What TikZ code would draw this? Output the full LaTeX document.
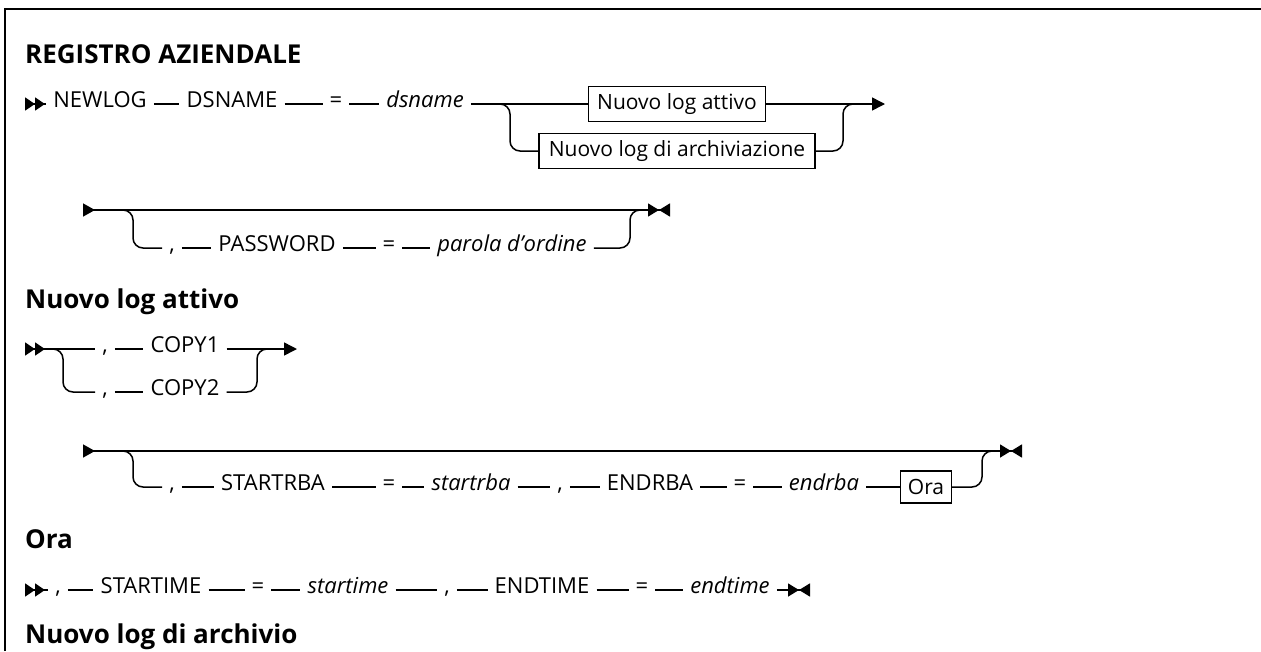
\documentclass[tikz,border=0pt]{standalone}
\usepackage{fontspec}
\setmainfont{Open Sans}
\usepackage{tikz}
\usetikzlibrary{arrows.meta}

\begin{document}
\begin{tikzpicture}[x=1pt, y=-1pt,
  txt/.style={font=\fontsize{22}{25}\selectfont, inner xsep=7pt, inner ysep=3pt, text height=0.7em, text depth=0pt},
  var/.style={txt, font=\fontsize{22}{25}\selectfont\itshape},
  ref/.style={draw, line width=1.3pt, font=\fontsize{21}{24}\selectfont, inner sep=0pt, outer sep=0pt, minimum height=35pt},
  lab/.style={font=\fontsize{26}{30}\selectfont\bfseries, anchor=base west, inner sep=0pt},
  rail/.style={line width=1.5pt},
  turn/.style={rail, rounded corners=10pt},
  bgn/.style={arrows={{Triangle[reversed, length=10pt, width=13pt] Triangle[reversed, length=10pt, width=13pt]}-}},
  cont/.style={arrows={-{Triangle[length=13pt, width=13pt]}}},
  fin/.style={arrows={-{Triangle[length=11pt, width=13pt] Triangle[reversed, length=11pt, width=13pt]}}},
  both/.style={arrows={{Triangle[reversed, length=12pt, width=13pt]}-{Triangle[length=11pt, width=13pt] Triangle[reversed, length=11pt, width=13pt]}}}]
\useasboundingbox (0,0) rectangle (1261,651);
\draw[line width=2.5pt] (5,651) -- (5,9) -- (1261,9);
% REGISTRO AZIENDALE
\node[lab] (h1) at (25,63) {REGISTRO AZIENDALE};
\coordinate (s1) at (25,104); \coordinate (b1) at (500,104); \coordinate (j1) at (843,104); \coordinate (e1) at (885,104);
\node[txt] (newlog) at (100,104) {NEWLOG};
\node[txt] (dsnm) at (232,104) {DSNAME};
\node[txt] (eq1) at (336,104) {=};
\node[var] (dsn) at (425,104) {dsname};
\node[ref, minimum width=177pt] (nla) at (677,104) {Nuovo log attivo};
\node[ref, minimum width=276pt] (nlx) at (677,151) {Nuovo log di archiviazione};
\draw[rail, bgn] (s1) -- (newlog);
\draw[rail] (newlog) -- (dsnm); \draw[rail] (dsnm) -- (eq1); \draw[rail] (eq1) -- (dsn); \draw[rail] (dsn) -- (nla);
\draw[rail, cont] (nla) -- (e1);
\draw[turn] (b1) -- ++(10,0) |- (nlx);
\draw[turn] (nlx) -| (j1) -- ++(10,0);
% password
\coordinate (s2) at (83,210); \coordinate (b2) at (124,210); \coordinate (j2) at (630,210); \coordinate (e2) at (670,210);
\node[txt] (c1) at (172,248) {,};
\node[txt] (pw) at (277,248) {PASSWORD};
\node[txt] (eq2) at (389,248) {=};
\node[var] (pwv) at (512,248) {parola d'ordine};
\draw[rail, both] (s2) -- (e2);
\draw[turn] (b2) -- ++(9,0) |- (c1);
\draw[rail] (c1) -- (pw); \draw[rail] (pw) -- (eq2); \draw[rail] (eq2) -- (pwv);
\draw[turn] (pwv) -| (j2) -- ++(10,0);
% Nuovo log attivo
\node[lab] (h2) at (25,308) {Nuovo log attivo};
\coordinate (s3) at (25,349); \coordinate (b3) at (54,349); \coordinate (j3) at (257,349); \coordinate (e3) at (297,349);
\node[txt] (c2) at (105,349) {,};
\node[txt] (cp1) at (185,349) {COPY1};
\node[txt] (c3) at (105,392) {,};
\node[txt] (cp2) at (185,392) {COPY2};
\draw[rail, bgn] (s3) -- (c2);
\draw[rail] (c2) -- (cp1);
\draw[rail, cont] (cp1) -- (e3);
\draw[turn] (b3) -- ++(9,0) |- (c3);
\draw[rail] (c3) -- (cp2);
\draw[turn] (cp2) -| (j3) -- ++(10,0);
\coordinate (s4) at (83,451); \coordinate (b4) at (124,451); \coordinate (j4) at (982,451); \coordinate (e4) at (1022,451);
\node[txt] (c4) at (172,487) {,};
\node[txt] (srb) at (273,487) {STARTRBA};
\node[txt] (eq3) at (389,487) {=};
\node[var] (srbv) at (471,487) {startrba};
\node[txt] (c5) at (560,487) {,};
\node[txt] (erb) at (650,487) {ENDRBA};
\node[txt] (eq4) at (740,487) {=};
\node[var] (erbv) at (824,487) {endrba};
\node[ref, minimum width=51pt, minimum height=32pt] (ora) at (926,487) {Ora};
\draw[rail, both] (s4) -- (e4);
\draw[turn] (b4) -- ++(9,0) |- (c4);
\draw[rail] (c4) -- (srb); \draw[rail] (srb) -- (eq3); \draw[rail] (eq3) -- (srbv); \draw[rail] (srbv) -- (c5);
\draw[rail] (c5) -- (erb); \draw[rail] (erb) -- (eq4); \draw[rail] (eq4) -- (erbv); \draw[rail] (erbv) -- (ora);
\draw[turn] (ora) -| (j4) -- ++(10,0);
% Ora
\node[lab] (h3) at (25,548) {Ora};
\coordinate (s5) at (25,590); \coordinate (e5) at (810,590);
\node[txt] (c6) at (58,590) {,};
\node[txt] (stm) at (151,590) {STARTIME};
\node[txt] (eq5) at (258,590) {=};
\node[var] (stmv) at (348,590) {startime};
\node[txt] (c7) at (447,590) {,};
\node[txt] (etm) at (542,590) {ENDTIME};
\node[txt] (eq6) at (642,590) {=};
\node[var] (etmv) at (730,590) {endtime};
\draw[rail, bgn] (s5) -- (c6);
\draw[rail] (c6) -- (stm); \draw[rail] (stm) -- (eq5); \draw[rail] (eq5) -- (stmv); \draw[rail] (stmv) -- (c7);
\draw[rail] (c7) -- (etm); \draw[rail] (etm) -- (eq6); \draw[rail] (eq6) -- (etmv);
\draw[rail, fin] (etmv) -- (e5);
% Nuovo log di archivio
\node[lab] (h4) at (25,643) {Nuovo log di archivio};
\end{tikzpicture}
\end{document}
